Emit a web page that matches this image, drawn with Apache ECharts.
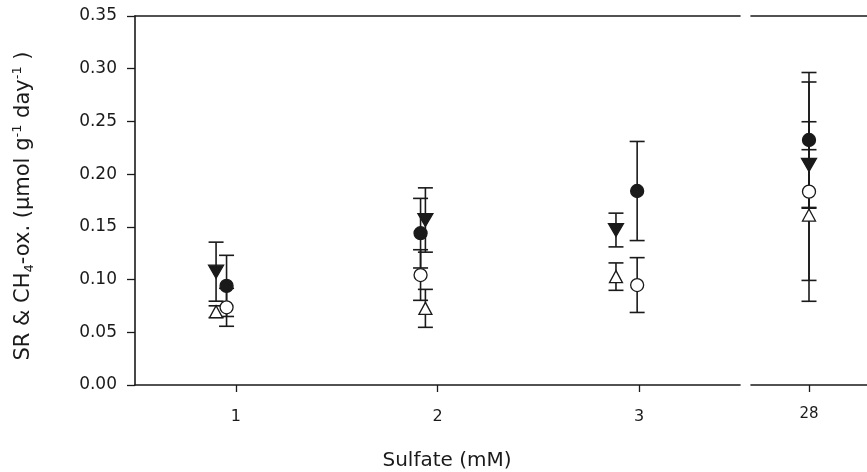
<!DOCTYPE html>
<html><head><meta charset="utf-8">
<script src="https://cdn.jsdelivr.net/npm/echarts@6/dist/echarts.min.js"></script>
<style>html,body{margin:0;padding:0;background:#fff}#c{width:867px;height:472px}</style>
</head><body><div id="c"></div>
<script>
// x categories and tick labels
const tickValuesLeft = [1, 2, 3];
const tickValuesRight = [28];
const yTicks = [0, 0.05, 0.10, 0.15, 0.20, 0.25, 0.30, 0.35];
// x positions (slightly offset around each sulfate level)
const xTriangles = [0.902, 1.940, 2.885, 28];
const xCircles   = [0.954, 1.916, 2.990, 28];
// series: means and error (±)
const filledTriMean = [0.1075, 0.1565, 0.147, 0.2087];
const filledTriErr  = [0.028, 0.0305, 0.016, 0.041];
const openTriMean   = [0.0695, 0.0727, 0.1028, 0.1612];
const openTriErr    = [0.0056, 0.018, 0.013, 0.062];
const filledCirMean = [0.094, 0.144, 0.184, 0.2324];
const filledCirErr  = [0.029, 0.033, 0.047, 0.064];
const openCirMean   = [0.0737, 0.1043, 0.0948, 0.1834];
const openCirErr    = [0.018, 0.024, 0.026, 0.104];

const FONT = 'DejaVu Sans';
const INK = '#1a1a1a';
const chart = echarts.init(document.getElementById('c'));

function split(xs, means, errs) {
  const left = [], right = [];
  xs.forEach((x, i) => {
    const item = [x, means[i], errs[i]];
    (x > 10 ? right : left).push(item);
  });
  return [left, right];
}

const seriesDefs = [
  {name: 'SR filled tri', xs: xTriangles, m: filledTriMean, e: filledTriErr, symbol: 'triangle', rot: 180, size: [15, 13], fill: INK},
  {name: 'open tri', xs: xTriangles, m: openTriMean, e: openTriErr, symbol: 'triangle', rot: 0, size: [13, 12], fill: '#fff'},
  {name: 'filled cir', xs: xCircles, m: filledCirMean, e: filledCirErr, symbol: 'circle', rot: 0, size: 13, fill: INK},
  {name: 'open cir', xs: xCircles, m: openCirMean, e: openCirErr, symbol: 'circle', rot: 0, size: 13, fill: '#fff'}
];

function errRender(params, api) {
  const x = api.value(0), y = api.value(1), e = api.value(2);
  const top = api.coord([x, y + e]);
  const bot = api.coord([x, y - e]);
  const hw = 7.5;
  const st = {stroke: INK, lineWidth: 1.6};
  return {type: 'group', children: [
    {type: 'line', shape: {x1: top[0], y1: top[1], x2: bot[0], y2: bot[1]}, style: st},
    {type: 'line', shape: {x1: top[0] - hw, y1: top[1], x2: top[0] + hw, y2: top[1]}, style: st},
    {type: 'line', shape: {x1: bot[0] - hw, y1: bot[1], x2: bot[0] + hw, y2: bot[1]}, style: st}
  ]};
}

const errSeries = [], markSeries = [];
seriesDefs.forEach(d => {
  const parts = split(d.xs, d.m, d.e);
  parts.forEach((data, gi) => {
    errSeries.push({type: 'custom', xAxisIndex: gi * 2, yAxisIndex: gi, data: data, renderItem: errRender, z: 2, silent: true, clip: false});
    markSeries.push({type: 'scatter', xAxisIndex: gi * 2, yAxisIndex: gi, data: data.map(p => [p[0], p[1]]),
      symbol: d.symbol, symbolRotate: d.rot, symbolSize: d.size, z: 3, silent: true,
      itemStyle: {color: d.fill, borderColor: INK, borderWidth: 1.3, opacity: 1}});
  });
});

const axisLine = {show: true, lineStyle: {color: INK, width: 1.6}};
const gridTop = 16, gridH = 369;

chart.setOption({
  animation: false,
  backgroundColor: '#fff',
  grid: [
    {left: 135, top: gridTop, width: 605, height: gridH},
    {left: 751, top: gridTop, width: 124, height: gridH}
  ],
  xAxis: [
    {gridIndex: 0, type: 'value', position: 'bottom', min: 0.5, max: 3.5, axisLine: axisLine,
      splitLine: {show: false},
      axisTick: {show: true, length: 7, lineStyle: {color: INK, width: 1.3}, customValues: tickValuesLeft},
      axisLabel: {show: true, margin: 24, customValues: tickValuesLeft, fontFamily: FONT, fontSize: 16, color: INK, formatter: v => String(v)}},
    {gridIndex: 0, type: 'value', position: 'top', min: 0.5, max: 3.5, axisLine: axisLine,
      splitLine: {show: false}, axisTick: {show: false}, axisLabel: {show: false}},
    {gridIndex: 1, type: 'value', position: 'bottom', min: 27.5, max: 28.5, axisLine: axisLine,
      splitLine: {show: false},
      axisTick: {show: true, length: 7, lineStyle: {color: INK, width: 1.3}, customValues: tickValuesRight},
      axisLabel: {show: true, margin: 22, customValues: tickValuesRight, fontFamily: FONT, fontSize: 15, color: INK, formatter: v => String(v)}},
    {gridIndex: 1, type: 'value', position: 'top', min: 27.5, max: 28.5, axisLine: axisLine,
      splitLine: {show: false}, axisTick: {show: false}, axisLabel: {show: false}}
  ],
  yAxis: [
    {gridIndex: 0, type: 'value', min: 0, max: 0.35, axisLine: axisLine, splitLine: {show: false},
      axisTick: {show: true, length: 8, lineStyle: {color: INK, width: 1.3}, customValues: yTicks},
      axisLabel: {show: true, margin: 18, customValues: yTicks, fontFamily: FONT, fontSize: 17, color: INK, formatter: v => v.toFixed(2)}},
    {gridIndex: 1, type: 'value', min: 0, max: 0.35, show: false}
  ],
  graphic: [
    {type: 'text', x: 24, y: 206, rotation: Math.PI / 2, style: {
      text: '{m|SR & CH}{sub|4}{m|-ox. (µmol g}{sup|-1}{m| day}{sup|-1}{m| )}',
      align: 'center', verticalAlign: 'middle', fill: INK,
      rich: {
        m: {fontSize: 21, fontFamily: FONT, fill: INK, lineHeight: 25},
        sub: {fontSize: 13, fontFamily: FONT, fill: INK, verticalAlign: 'bottom', lineHeight: 25},
        sup: {fontSize: 13, fontFamily: FONT, fill: INK, verticalAlign: 'top', lineHeight: 25}
      }}},
    {type: 'text', x: 447, y: 461, style: {text: 'Sulfate (mM)', align: 'center', verticalAlign: 'middle', fontSize: 20, fontFamily: FONT, fill: INK}}
  ],
  series: errSeries.concat(markSeries)
});
</script></body></html>
